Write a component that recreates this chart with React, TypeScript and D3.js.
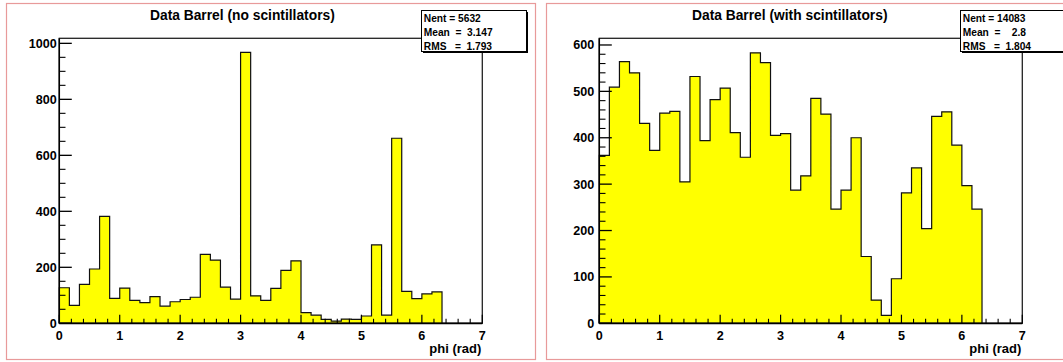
import React from "react";
import * as d3 from "d3";

// Histogram: 38 bins of width 1/6 rad starting at 0
const binWidth = 1 / 6;
const noScintillators = [
  127, 64, 139, 194, 382, 89, 126, 82, 74, 95, 61, 77, 85, 93, 246, 226, 129, 86, 968, 98,
  82, 125, 189, 223, 38, 29, 14, 8, 15, 14, 26, 280, 29, 661, 114, 88, 105, 112,
];
const withScintillators = [
  362, 509, 564, 540, 431, 373, 453, 457, 305, 532, 394, 482, 507, 411, 358, 583, 562, 405, 409, 287,
  318, 485, 451, 246, 287, 400, 144, 50, 17, 96, 281, 335, 204, 446, 456, 384, 297, 246,
];
const xTicks = [0, 1, 2, 3, 4, 5, 6, 7];
const yTicksLeft = [0, 200, 400, 600, 800, 1000];
const yTicksRight = [0, 100, 200, 300, 400, 500, 600];
const statsLeft = ["Nent = 5632", "Mean  =  3.147", "RMS   =  1.793"];
const statsRight = ["Nent = 14083", "Mean  =    2.8", "RMS   =  1.804"];

const FONT = "'Liberation Sans', Arial, Helvetica, sans-serif";

type PanelProps = {
  ox: number;
  data: number[];
  yMax: number;
  yTicks: number[];
  yMinorStep: number;
  title: string;
  titleX: number;
  stats: string[];
  boxX: number;
  labelGap: number;
};

function Panel({ ox, data, yMax, yTicks, yMinorStep, title, titleX, stats, boxX, labelGap }: PanelProps) {
  const x0 = 59.3 + ox;
  const x1 = 482.3 + ox;
  const yTop = 38.3;
  const yBot = 323.3;
  const x = d3.scaleLinear().domain([0, 7]).range([x0, x1]);
  const y = d3.scaleLinear().domain([0, yMax]).range([yBot, yTop]);

  const pts: [number, number][] = [[0, 0]];
  data.forEach((v, i) => pts.push([i * binWidth, v]));
  pts.push([data.length * binWidth, data[data.length - 1]]);
  pts.push([data.length * binWidth, 0]);

  const area = d3
    .area<[number, number]>()
    .x((d) => x(d[0]))
    .y0(y(0))
    .y1((d) => y(d[1]))
    .curve(d3.curveStepAfter);
  const line = d3
    .line<[number, number]>()
    .x((d) => x(d[0]))
    .y((d) => y(d[1]))
    .curve(d3.curveStepAfter);

  const xMinor = d3.range(0, 7.0001, 0.2).filter((v) => Math.abs(v - Math.round(v)) > 1e-6);
  const yMinor = d3.range(0, yMax, yMinorStep).filter((v) => !yTicks.includes(Math.round(v)));

  return (
    <g>
      <rect x={ox + 6.5} y={3.5} width={529} height={356} fill="#fff" stroke="#e89a9a" strokeWidth={1.2} />
      <text x={titleX} y={19.5} fontFamily={FONT} fontWeight="bold" fontSize={13.8} fill="#000">
        {title}
      </text>
      <path d={area(pts) || ""} fill="#ffff00" />
      <path d={line(pts) || ""} fill="none" stroke="#111" strokeWidth={1.2} />
      <rect x={x0} y={yTop} width={x1 - x0} height={yBot - yTop} fill="none" stroke="#222" strokeWidth={1.3} />
      {/* y axis */}
      <line x1={x0} x2={x0} y1={yTop} y2={yBot} stroke="#000" strokeWidth={1.5} />
      {yTicks.map((t) => (
        <g key={"yt" + t}>
          <line x1={x0} x2={x0 + 12.5} y1={y(t)} y2={y(t)} stroke="#000" strokeWidth={1.3} />
          <text
            x={x0 - labelGap}
            y={y(t) + 4.5}
            textAnchor="end"
            fontFamily={FONT}
            fontWeight="bold"
            fontSize={12.6}
          >
            {t}
          </text>
        </g>
      ))}
      {yMinor.map((t) => (
        <line key={"ym" + t} x1={x0} x2={x0 + 6.2} y1={y(t)} y2={y(t)} stroke="#000" strokeWidth={1.1} />
      ))}
      {/* x axis */}
      <line x1={x0} x2={x1} y1={yBot} y2={yBot} stroke="#000" strokeWidth={1.8} />
      {xTicks.map((t) => (
        <g key={"xt" + t}>
          <line x1={x(t)} x2={x(t)} y1={yBot} y2={yBot - 8.6} stroke="#000" strokeWidth={1.2} />
          <text x={x(t)} y={340} textAnchor="middle" fontFamily={FONT} fontWeight="bold" fontSize={12.6}>
            {t}
          </text>
        </g>
      ))}
      {xMinor.map((t) => (
        <line key={"xm" + t} x1={x(t)} x2={x(t)} y1={yBot} y2={yBot - 4.5} stroke="#000" strokeWidth={1.1} />
      ))}
      <text x={x1 - 1} y={352.5} textAnchor="end" fontFamily={FONT} fontWeight="bold" fontSize={13}>
        phi (rad)
      </text>
      {/* stats box */}
      <rect x={boxX + 2} y={12} width={105} height={41} fill="#000" />
      <rect x={boxX + 0.5} y={10.5} width={105} height={41} fill="#fff" stroke="#000" strokeWidth={1} />
      {stats.map((s, i) => (
        <text
          key={"s" + i}
          x={boxX + 2.8}
          y={22 + i * 14}
          fontFamily={FONT}
          fontWeight="bold"
          fontSize={10.2}
          style={{ whiteSpace: "pre" }}
        >
          {s}
        </text>
      ))}
    </g>
  );
}

export default function App() {
  return (
    <svg
      width={1063}
      height={362}
      style={{ position: "absolute", left: 0, top: 0, background: "#fff" }}
    >
      <rect x={0} y={0} width={1063} height={362} fill="#fff" />
      <Panel
        ox={0}
        data={noScintillators}
        yMax={1018}
        yTicks={yTicksLeft}
        yMinorStep={50}
        title="Data Barrel (no scintillators)"
        titleX={150}
        stats={statsLeft}
        boxX={421}
        labelGap={2.6}
      />
      <Panel
        ox={540}
        data={withScintillators}
        yMax={614.4}
        yTicks={yTicksRight}
        yMinorStep={20}
        title="Data Barrel (with scintillators)"
        titleX={692}
        stats={statsRight}
        boxX={960}
        labelGap={5}
      />
    </svg>
  );
}
